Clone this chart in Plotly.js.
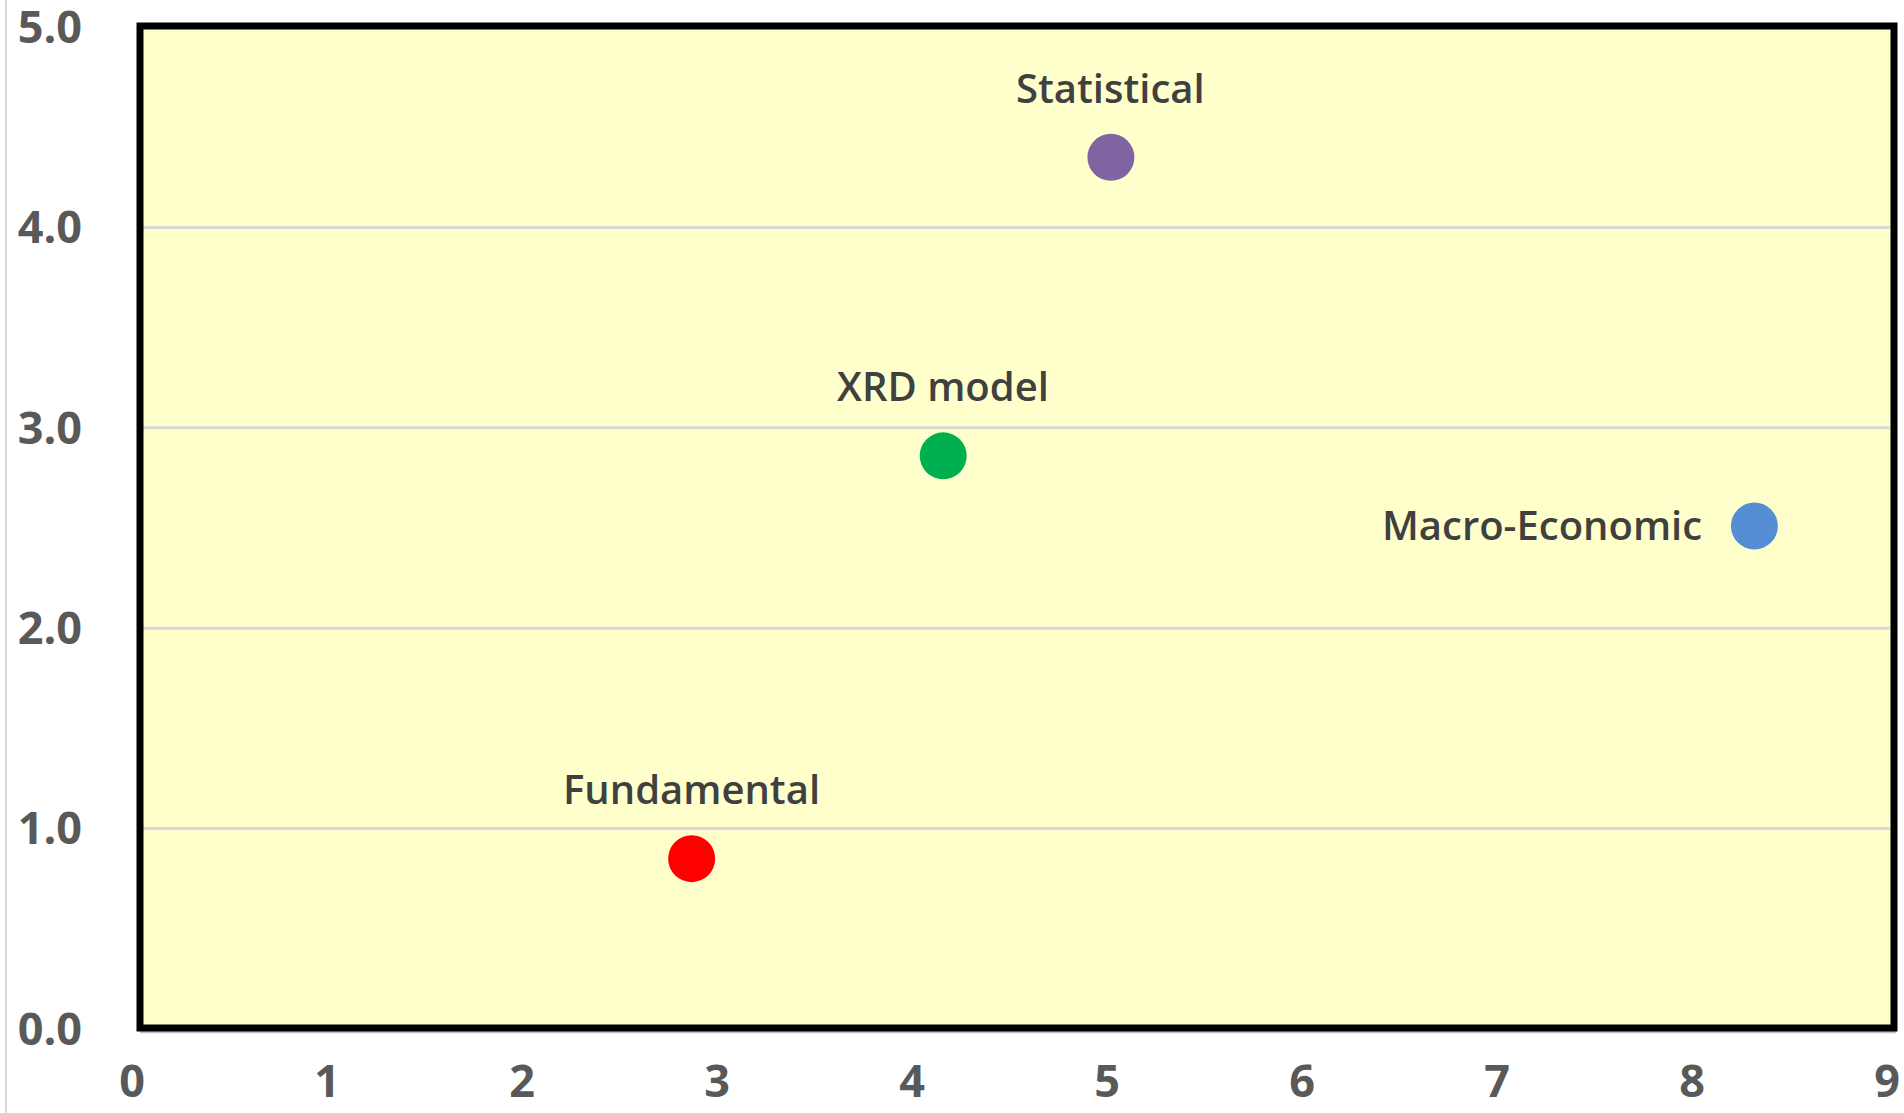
<!DOCTYPE html>
<html>
<head>
<meta charset="utf-8">
<script src="https://cdn.plot.ly/plotly-3.0.1.min.js"></script>
<style>html,body{margin:0;padding:0;background:#fff;}#chart{width:1904px;height:1113px;}</style>
</head>
<body>
<div id="chart"></div>
<script>
// ---- data ----
const labels = ["Fundamental", "XRD model", "Statistical", "Macro-Economic"];
const xValues = [2.87, 4.16, 5.02, 8.32];
const yValues = [0.85, 2.86, 4.35, 2.51];
const pointColors = ["#FF0000", "#00B050", "#8064A2", "#558ED5"];
const xTicks = [0, 1, 2, 3, 4, 5, 6, 7, 8, 9];
const yTicks = [0, 1, 2, 3, 4, 5];
const yTickLabels = ["0.0", "1.0", "2.0", "3.0", "4.0", "5.0"];

// ---- chart ----
const trace = {
  type: "scatter",
  mode: "markers",
  x: xValues,
  y: yValues,
  marker: { size: 47, color: pointColors, line: { width: 0 } },
  hoverinfo: "skip",
  showlegend: false
};

const annotations = labels.map((t, i) => {
  const left = (t === "Macro-Economic");
  return {
    x: xValues[i], y: yValues[i], xref: "x", yref: "y",
    text: t, showarrow: false,
    xanchor: left ? "right" : "center",
    yanchor: "middle",
    xshift: left ? -50 : 0,
    yshift: left ? 2 : 70,
    font: { family: "Open Sans", size: 40, color: "#404040", weight: 600 }
  };
});

const shapes = [];
// yellow plot fill
shapes.push({ type: "rect", xref: "paper", yref: "paper", layer: "below",
  x0: 0.00456, x1: 1.00399, y0: 0.001, y1: 1.001,
  fillcolor: "#FFFFCC", line: { width: 0 } });
// gridlines at y ticks
yTicks.slice(1, -1).forEach(v => {
  shapes.push({ type: "line", xref: "paper", yref: "y", layer: "below",
    x0: 0.006, x1: 1.002, y0: v, y1: v,
    line: { color: "#D9D9D9", width: 3 } });
});
// gray axis line under box
shapes.push({ type: "line", xref: "paper", yref: "paper", layer: "above",
  x0: 0.0046, x1: 1.005, y0: -0.0028, y1: -0.0028,
  line: { color: "#BFBFBF", width: 3 } });
// black frame
shapes.push({ type: "rect", xref: "paper", yref: "paper", layer: "above",
  x0: 0.00456, x1: 1.00399, y0: 0.001, y1: 1.001,
  line: { color: "#000000", width: 7 } });
// left light gray border line
shapes.push({ type: "line", xref: "paper", yref: "paper", layer: "above",
  x0: -0.0718, x1: -0.0718, y0: -0.09, y1: 1.03,
  line: { color: "#D9D9D9", width: 2 } });

const tickFont = { family: "Open Sans", size: 45, color: "#595959", weight: 700 };

const layout = {
  width: 1904, height: 1113,
  margin: { l: 132, r: 17, t: 27, b: 84, pad: 0 },
  paper_bgcolor: "#FFFFFF",
  plot_bgcolor: "rgba(0,0,0,0)",
  xaxis: {
    range: [0, 9], tickvals: xTicks, ticktext: xTicks.map(String),
    showgrid: false, zeroline: false, showline: false, ticks: "",
    tickfont: tickFont, ticklabelstandoff: 22, ticklabeloverflow: "allow",
    fixedrange: true
  },
  yaxis: {
    range: [0, 5], tickvals: yTicks, ticktext: yTickLabels,
    showgrid: false, zeroline: false, showline: false, ticks: "",
    tickfont: tickFont, ticklabelstandoff: 49, ticklabeloverflow: "allow",
    fixedrange: true
  },
  shapes: shapes,
  annotations: annotations,
  showlegend: false
};

Plotly.newPlot("chart", [trace], layout, { displayModeBar: false, staticPlot: true });
</script>
</body>
</html>
